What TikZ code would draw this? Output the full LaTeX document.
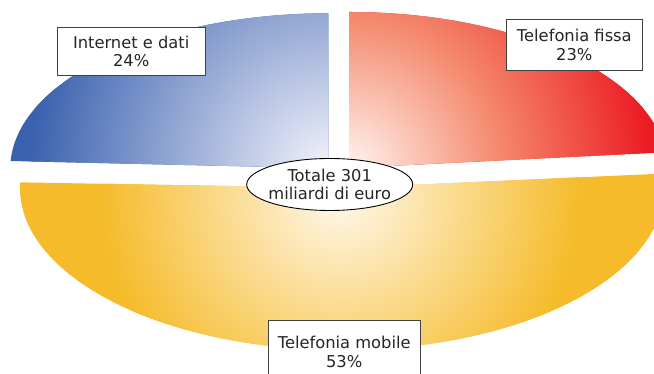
\documentclass[tikz,border=0pt]{standalone}
\usepackage{fontspec}
\newfontfamily\lblfont{DejaVu Sans}
\usetikzlibrary{shapes.geometric}
\definecolor{blueO}{HTML}{3A61AE}
\definecolor{blueI}{HTML}{F3F3FB}
\definecolor{redA}{HTML}{FFF4F0}
\definecolor{redB}{HTML}{F4896D}
\definecolor{redC}{HTML}{EC1C24}
\definecolor{yelO}{HTML}{F5BB2A}
\definecolor{yelI}{HTML}{FFF8EC}
\definecolor{boxc}{HTML}{404040}
\definecolor{txtc}{HTML}{262626}
\pgfdeclareradialshading{redsh}{\pgfpointorigin}{color(0bp)=(redA); color(12.5bp)=(redB); color(25bp)=(redC); color(50bp)=(redC)}
\begin{document}
\begin{tikzpicture}[x=1pt,y=1pt,
  lblbox/.style={draw=boxc, line width=0.9pt, fill=white, text=txtc,
    font=\lblfont\fontsize{16.3}{18.5}\selectfont, align=center, inner sep=0pt},
  totalbox/.style={ellipse, draw=black, line width=0.9pt, fill=white, text=txtc,
    font=\lblfont\fontsize{16.3}{18.5}\selectfont, align=center, inner xsep=-2.8pt, inner ysep=0pt}]
\fill[white] (0,0) rectangle (654,374);
\useasboundingbox (0,0) rectangle (654,374);
\begin{scope}
\clip (0,0) rectangle (654,374);
\coordinate (bc) at (328.3,205.7);
\coordinate (rc) at (349.3,206);
\coordinate (yc) at (342,186);
\coordinate (ys) at (340,180);
% Internet e dati
\begin{scope}
\clip (bc) -- ++(0,155) arc[start angle=90,end angle=177.3,x radius=318,y radius=155] -- cycle;
\fill[blueO] (0,0) rectangle (654,374);
\shade[inner color=blueI, outer color=blueO] (bc) circle (300);
\end{scope}
% Telefonia fissa
\begin{scope}
\clip (rc) -- ++(0,156) arc[start angle=90,end angle=5.8,x radius=318,y radius=156] -- cycle;
\fill[redC] (0,0) rectangle (654,374);
\shade[shading=redsh] (rc) circle (300);
\end{scope}
% Telefonia mobile
\begin{scope}
\clip (yc) -- ++(178:322 and 162) arc[start angle=178,end angle=365.1,x radius=322,y radius=162] -- cycle;
\fill[yelO] (0,0) rectangle (654,374);
\shade[inner color=yelI, outer color=yelO] (ys) circle (240);
\end{scope}
\node[lblbox, minimum width=147.7pt, minimum height=47.7pt] (inet) at (131.2,322.8) {Internet e dati\\24\%};
\node[lblbox, minimum width=136.7pt, minimum height=51.4pt] (fissa) at (574.35,329) {Telefonia fissa\\23\%};
\node[lblbox, minimum width=151.7pt, minimum height=62.6pt] (mobile) at (344.2,22) {Telefonia mobile\\53\%};
\node[totalbox, minimum width=166pt, minimum height=52pt] (total) at (329.7,189.5) {Totale 301\\miliardi di euro};
\end{scope}
\end{tikzpicture}
\end{document}
